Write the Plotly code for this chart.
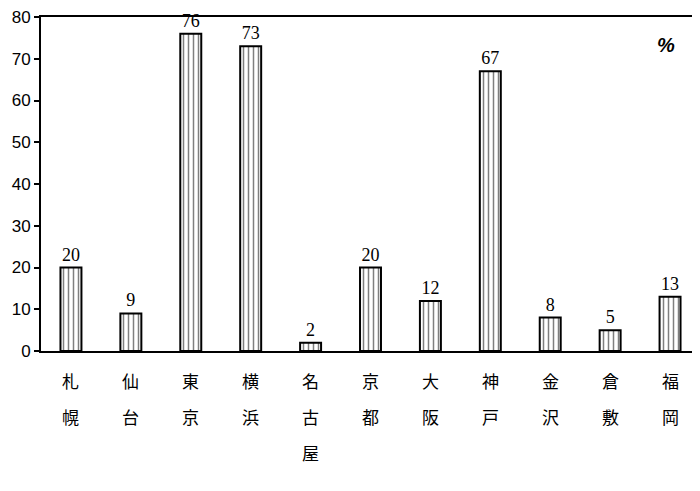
import plotly.graph_objects as go

cities = ["札幌", "仙台", "東京", "横浜", "名古屋", "京都", "大阪", "神戸", "金沢", "倉敷", "福岡"]
values = [20, 9, 76, 73, 2, 20, 12, 67, 8, 5, 13]
y_ticks = [0, 10, 20, 30, 40, 50, 60, 70, 80]
unit_label = "%"

fig = go.Figure()
fig.add_trace(go.Bar(
    x=cities, y=values, width=0.35,
    marker=dict(color="white", line=dict(color="black", width=2),
                pattern=dict(shape="|", fgcolor="black", bgcolor="white", size=5, solidity=0.3)),
    text=[str(v) for v in values], textposition="outside", cliponaxis=False,
    textfont=dict(family="Liberation Serif, serif", size=18, color="black"),
))

annotations = []
for c in cities:
    for i, ch in enumerate(c):
        annotations.append(dict(
            x=c, y=0, xref="x", yref="y", text=ch, showarrow=False,
            yanchor="middle", yshift=-29 - 36 * i,
            font=dict(family="Noto Sans CJK JP", size=17, color="black"),
        ))
annotations.append(dict(x=0.965, y=0.955, xref="paper", yref="paper", text="<b><i>" + unit_label + "</i></b>",
                        showarrow=False, font=dict(family="Liberation Sans", size=20, color="black")))

fig.update_layout(
    width=692, height=483, margin=dict(l=33, r=0, t=7, b=140),
    paper_bgcolor="white", plot_bgcolor="white", showlegend=False,
    annotations=annotations,
    xaxis=dict(showticklabels=False, ticks="", showline=True, linecolor="black", linewidth=2,
               mirror=True, showgrid=False, range=[-0.5, len(cities) - 0.5]),
    yaxis=dict(range=[0, 80], tickvals=y_ticks, ticks="outside", ticklen=5, tickwidth=2,
               tickcolor="black", showline=True, linecolor="black", linewidth=2, showgrid=False,
               zeroline=False, ticklabeloverflow="allow",
               tickfont=dict(family="Liberation Sans, Arial", size=17, color="black")),
)
fig.write_html("out.html")
